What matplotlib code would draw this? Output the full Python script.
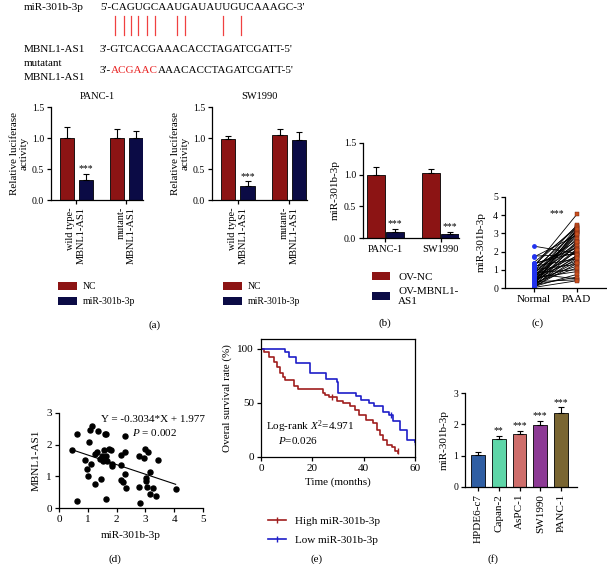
import numpy as np
import matplotlib.pyplot as plt
from matplotlib.patches import Patch
from matplotlib.lines import Line2D

plt.rcParams['font.family'] = ['Liberation Serif', 'DejaVu Serif']
plt.rcParams['font.size'] = 7
plt.rcParams['mathtext.fontset'] = 'custom'
plt.rcParams['mathtext.rm'] = 'Liberation Serif'
plt.rcParams['mathtext.it'] = 'Liberation Serif:italic'
plt.rcParams['axes.linewidth'] = 0.9
plt.rcParams['xtick.major.size'] = 3
plt.rcParams['ytick.major.size'] = 3
plt.rcParams['xtick.major.width'] = 0.9
plt.rcParams['ytick.major.width'] = 0.9
plt.rcParams['xtick.major.pad'] = 2
plt.rcParams['ytick.major.pad'] = 2

# ---- data ----
seq_mir = "5'-CAGUGCAAUGAUAUUGUCAAAGC-3'"
seq_wt = "3'-GTCACGAAACACCTAGATCGATT-5'"
seq_mut_head = "3'-"
seq_mut_red = "ACGAAC"
seq_mut_rest = "AAACACCTAGATCGATT-5'"
pair_x = [115, 124, 131, 138, 147, 155, 177, 185, 223, 241]  # base pairing marks (px)

luc_groups = ['wild type-\nMBNL1-AS1', 'mutant-\nMBNL1-AS1']
panc_nc, panc_nc_err = [1.0, 1.0], [0.18, 0.14]
panc_mir, panc_mir_err = [0.33, 1.0], [0.09, 0.12]
sw_nc, sw_nc_err = [0.99, 1.05], [0.04, 0.10]
sw_mir, sw_mir_err = [0.23, 0.97], [0.07, 0.12]

ov_cells = ['PANC-1', 'SW1990']
ov_nc, ov_nc_err = [1.0, 1.03], [0.12, 0.06]
ov_mbnl, ov_mbnl_err = [0.09, 0.07], [0.06, 0.03]

normal = [2.3, 1.75, 1.7, 1.4, 1.35, 1.3, 1.25, 1.2, 1.15, 1.1, 1.05, 1.0, 0.95, 0.9, 0.85,
          0.8, 0.78, 0.75, 0.7, 0.68, 0.65, 0.6, 0.58, 0.55, 0.5, 0.48, 0.45, 0.42, 0.4, 0.38,
          0.35, 0.32, 0.3, 0.28, 0.25, 0.22, 0.2, 0.18, 0.15, 0.12, 0.1, 0.08, 0.06, 0.05, 0.03, 0.02]
paad = [1.9, 1.85, 2.9, 3.3, 1.95, 2.2, 3.4, 1.6, 4.05, 2.6, 3.1, 1.3, 2.4, 3.45, 1.0,
        2.8, 0.5, 3.2, 2.25, 1.75, 3.0, 1.5, 2.7, 0.9, 3.35, 2.0, 1.2, 2.55, 3.15, 1.7,
        0.45, 2.35, 3.05, 1.1, 2.15, 2.95, 1.45, 0.6, 3.25, 1.8, 2.5, 0.75, 1.35, 2.1, 0.4, 1.65]

mir_x = [0.45, 0.62, 0.64, 0.89, 0.97, 1.0, 1.04, 1.06, 1.13, 1.11, 1.24, 1.25, 1.32, 1.37, 1.41,
         1.45, 1.49, 1.53, 1.55, 1.59, 1.64, 1.62, 1.64, 1.67, 1.72, 1.81, 1.83, 1.85, 2.16, 2.17,
         2.15, 2.23, 2.28, 2.29, 2.30, 2.31, 2.77, 2.77, 2.80, 2.94, 2.97, 3.03, 3.03, 3.04, 3.09,
         3.15, 3.15, 3.28, 3.37, 3.44, 4.05]
mbnl_y = [1.84, 2.35, 0.23, 1.51, 1.23, 1.02, 2.08, 2.45, 2.58, 1.40, 0.76, 1.71, 1.77, 2.44, 1.56,
          0.93, 1.63, 1.49, 1.84, 2.35, 2.35, 1.63, 0.28, 1.48, 1.86, 1.82, 1.34, 1.38, 1.35, 1.66,
          0.89, 0.81, 2.28, 1.76, 1.07, 0.63, 1.63, 0.66, 0.16, 1.58, 1.86, 0.95, 0.84, 0.67, 1.77,
          1.14, 0.45, 0.63, 0.37, 1.53, 0.60]
slope, intercept = -0.3034, 1.977

high_t = [0, 1.3, 3.3, 5, 6.2, 7.4, 8.5, 9.5, 13, 14.5, 24, 25, 26.5, 29.5, 32, 34.5, 36.5,
          38, 41, 43.5, 45, 46.3, 47.7, 49, 51, 52.3, 53.5]
high_s = [100, 97, 92, 88, 83, 78, 74, 71, 66, 63, 59, 57, 55, 52, 50, 47, 43,
          39, 34, 31, 25, 20, 16, 11, 9, 6, 4]
low_t = [0, 9.5, 11, 13.5, 19, 25.5, 29.5, 30, 37, 39, 42, 44, 47.7, 50, 51.5, 54, 57, 60]
low_s = [100, 97, 92, 87, 78, 72, 69, 59, 56, 53, 50, 47, 42, 39, 33, 25, 16, 14]
high_cens_t, high_cens_s = [27.5, 53.5], [55, 6]
low_cens_t, low_cens_s = [50.7, 60], [39, 14]

lines_f = ['HPDE6-c7', 'Capan-2', 'AsPC-1', 'SW1990', 'PANC-1']
expr_f = [1.02, 1.54, 1.70, 1.98, 2.37]
err_f = [0.09, 0.10, 0.08, 0.14, 0.17]
sig_f = ['', '**', '***', '***', '***']
colors_f = ['#2F5EA3', '#5ED6A8', '#CF6E6B', '#8D3A95', '#7A6632']

NC_RED = '#8C1414'
NAVY = '#0B0B45'

W, H = 607, 564
fig = plt.figure(figsize=(W / 100, H / 100), dpi=100)


def px_axes(x0, y0, x1, y1):
    return fig.add_axes([x0 / W, 1 - y1 / H, (x1 - x0) / W, (y1 - y0) / H])


def plain(ax):
    ax.spines['top'].set_visible(False)
    ax.spines['right'].set_visible(False)


# overlay for free text
ov = fig.add_axes([0, 0, 1, 1])
ov.set_xlim(0, W)
ov.set_ylim(H, 0)
ov.axis('off')

ov.text(24, 7, 'miR-301b-3p', fontsize=8, va='center')
ov.text(100, 7, seq_mir, fontsize=8, va='center')
for x in pair_x:
    ov.plot([x, x], [16, 35], color='#F04040', lw=0.9)
ov.text(24, 49, 'MBNL1-AS1', fontsize=8, va='center')
ov.text(100, 49, seq_wt, fontsize=8, va='center')
ov.text(24, 63, 'mutatant', fontsize=8, va='center')
ov.text(24, 78, 'MBNL1-AS1', fontsize=8, va='center')
t1 = ov.text(100, 75, seq_mut_head, fontsize=8, va='bottom')
t2 = ov.annotate(seq_mut_red, xy=(1, 0), xycoords=t1, fontsize=8, va='bottom', color='#E82020')
ov.annotate(seq_mut_rest, xy=(1, 0), xycoords=t2, fontsize=8, va='bottom')

for lab, x, y in [('(a)', 155, 325), ('(b)', 385, 323), ('(c)', 538, 323),
                  ('(d)', 115, 559), ('(e)', 317, 559), ('(f)', 493, 559)]:
    ov.text(x, y, lab, fontsize=8, ha='center', va='center')


# (a) luciferase panels
def luc_panel(ax, nc, nc_err, mir, mir_err, title):
    x = np.arange(len(luc_groups))
    ekw = dict(elinewidth=0.8, capthick=0.8, ecolor='black')
    ax.bar(x - 0.19, nc, 0.28, color=NC_RED, edgecolor='black', lw=0.6,
           yerr=[np.zeros(len(x)), nc_err], capsize=2.5, error_kw=ekw)
    ax.bar(x + 0.19, mir, 0.28, color=NAVY, edgecolor='black', lw=0.6,
           yerr=[np.zeros(len(x)), mir_err], capsize=2.5, error_kw=ekw)
    ax.text(x[0] + 0.19, mir[0] + mir_err[0] + 0.01, '***', ha='center', va='bottom', fontsize=7)
    ax.set_xlim(-0.5, 1.34)
    ax.set_ylim(0, 1.5)
    ax.set_yticks([0, 0.5, 1.0, 1.5])
    ax.set_yticklabels(['0.0', '0.5', '1.0', '1.5'])
    ax.set_xticks(x)
    ax.set_xticklabels(luc_groups, rotation=90, ha='center', va='top', multialignment='right',
                       fontsize=7.5)
    ax.set_title(title, fontsize=7.5, pad=6)
    ax.set_ylabel('Relative luciferase\nactivity', fontsize=8, labelpad=2)
    plain(ax)


ax1 = px_axes(51, 107, 143, 200)
luc_panel(ax1, panc_nc, panc_nc_err, panc_mir, panc_mir_err, 'PANC-1')
ax2 = px_axes(212, 107, 307, 200)
luc_panel(ax2, sw_nc, sw_nc_err, sw_mir, sw_mir_err, 'SW1990')

for lx in [53, 218]:
    fig.legend(handles=[Patch(fc=NC_RED), Patch(fc=NAVY)], labels=['NC', 'miR-301b-3p'],
               loc='upper left', bbox_to_anchor=(lx / W, 1 - 277 / H), bbox_transform=fig.transFigure,
               frameon=False, borderpad=0, handlelength=2, handleheight=0.9, labelspacing=0.55,
               handletextpad=0.6, fontsize=7)

# (b) overexpression
axb = px_axes(363, 143, 459, 238)
xb = np.arange(len(ov_cells))
ekw = dict(elinewidth=0.8, capthick=0.8, ecolor='black')
axb.bar(xb - 0.17, ov_nc, 0.32, color=NC_RED, edgecolor='black', lw=0.6,
        yerr=[np.zeros(2), ov_nc_err], capsize=2.5, error_kw=ekw)
axb.bar(xb + 0.17, ov_mbnl, 0.32, color=NAVY, edgecolor='black', lw=0.6,
        yerr=[np.zeros(2), ov_mbnl_err], capsize=2.5, error_kw=ekw)
for i in range(2):
    axb.text(xb[i] + 0.17, ov_mbnl[i] + ov_mbnl_err[i] + 0.01, '***', ha='center', va='bottom', fontsize=7)
axb.set_xlim(-0.4, 1.33)
axb.set_ylim(0, 1.5)
axb.set_yticks([0, 0.5, 1.0, 1.5])
axb.set_yticklabels(['0.0', '0.5', '1.0', '1.5'])
axb.set_xticks(xb)
axb.set_xticklabels(ov_cells, fontsize=7.5)
axb.set_ylabel('miR-301b-3p', fontsize=8, labelpad=3)
plain(axb)
fig.legend(handles=[Patch(fc=NC_RED), Patch(fc=NAVY)], labels=['OV-NC', 'OV-MBNL1-\nAS1'],
           loc='upper left', bbox_to_anchor=(366 / W, 1 - 266 / H), bbox_transform=fig.transFigure,
           frameon=False, borderpad=0, handlelength=1.7, handleheight=0.8, labelspacing=0.45,
           handletextpad=0.7, fontsize=8)

# (c) paired
axc = px_axes(505, 197, 607, 288)
for n, p in zip(normal, paad):
    axc.plot([0, 1], [n, p], color='black', lw=0.6, zorder=1)
axc.scatter(np.zeros(len(normal)), normal, s=6, color='#2233EE', zorder=2)
axc.scatter(np.ones(len(paad)), paad, s=6, marker='s', color='#C8501E', edgecolors='#6A1A0A',
            linewidths=0.3, zorder=2)
axc.text(0.53, 3.85, '***', ha='center', va='bottom', fontsize=7)
axc.set_xlim(-0.67, 1.7)
axc.set_ylim(0, 5)
axc.set_yticks(range(6))
axc.set_xticks([0, 1])
axc.set_xticklabels(['Normal', 'PAAD'], fontsize=8)
axc.set_ylabel('miR-301b-3p', fontsize=8, labelpad=5)
plain(axc)

# (d) correlation
axd = px_axes(59, 413, 203, 508)
axd.scatter(mir_x, mbnl_y, s=13, color='black', zorder=2)
xx = np.array([min(mir_x), max(mir_x)])
axd.plot(xx, slope * xx + intercept, color='black', lw=0.8)
axd.text(3.28, 2.78, 'Y = -0.3034*X + 1.977', ha='center', va='center', fontsize=8)
axd.text(3.3, 2.37, '$\\mathit{P}$ = 0.002', ha='center', va='center', fontsize=8)
axd.set_xlim(0, 5)
axd.set_ylim(0, 3)
axd.set_xticks(range(6))
axd.set_yticks(range(4))
axd.tick_params(labelsize=8)
axd.set_xlabel('miR-301b-3p', fontsize=8, labelpad=5)
axd.set_ylabel('MBNL1-AS1', fontsize=8, labelpad=4)
plain(axd)

# (e) Kaplan-Meier
axe = px_axes(261, 339, 415, 457)
HI_C, LO_C = '#A01E1E', '#1E1EC8'
axe.step(high_t, high_s, where='post', color=HI_C, lw=1.2)
axe.step(low_t, low_s, where='post', color=LO_C, lw=1.2)
axe.plot(high_cens_t, high_cens_s, '|', color=HI_C, ms=4, mew=1)
axe.plot(low_cens_t, low_cens_s, '|', color=LO_C, ms=4, mew=1)
axe.text(19.1, 27.8, 'Log-rank $\\mathit{X}^2$=4.971', ha='center', va='center', fontsize=8)
axe.text(14.4, 14.8, '$\\mathit{P}$=0.026', ha='center', va='center', fontsize=8)
axe.set_xlim(0, 60)
axe.set_ylim(0, 109)
axe.set_xticks([0, 20, 40, 60])
axe.set_yticks([0, 50, 100])
axe.tick_params(labelsize=8)
axe.set_xlabel('Time (months)', fontsize=8, labelpad=3)
axe.set_ylabel('Overal survival rate (%)', fontsize=8, labelpad=4)
fig.legend(handles=[Line2D([], [], color=HI_C, lw=1.2, marker='|', ms=5),
                    Line2D([], [], color=LO_C, lw=1.2, marker='|', ms=5)],
           labels=['High miR-301b-3p', 'Low miR-301b-3p'],
           loc='upper left', bbox_to_anchor=(262 / W, 1 - 511 / H), bbox_transform=fig.transFigure,
           frameon=False, borderpad=0, handlelength=1.7, labelspacing=0.8, handletextpad=0.8,
           fontsize=8)

# (f) cell lines
axf = px_axes(465, 393, 577, 487)
xf = np.arange(len(lines_f))
axf.bar(xf, expr_f, 0.67, color=colors_f, edgecolor='black', lw=0.6,
        yerr=[np.zeros(len(xf)), err_f], capsize=2.5, error_kw=ekw)
for i in range(len(xf)):
    axf.text(xf[i], expr_f[i] + err_f[i] + 0.02, sig_f[i], ha='center', va='bottom', fontsize=7)
axf.set_xlim(-0.63, 4.77)
axf.set_ylim(0, 3)
axf.set_yticks(range(4))
axf.set_xticks(xf)
axf.set_xticklabels(lines_f, rotation=90, fontsize=8)
axf.set_ylabel('miR-301b-3p', fontsize=8, labelpad=3.5)
plain(axf)

fig.savefig('out.png', dpi=100)
